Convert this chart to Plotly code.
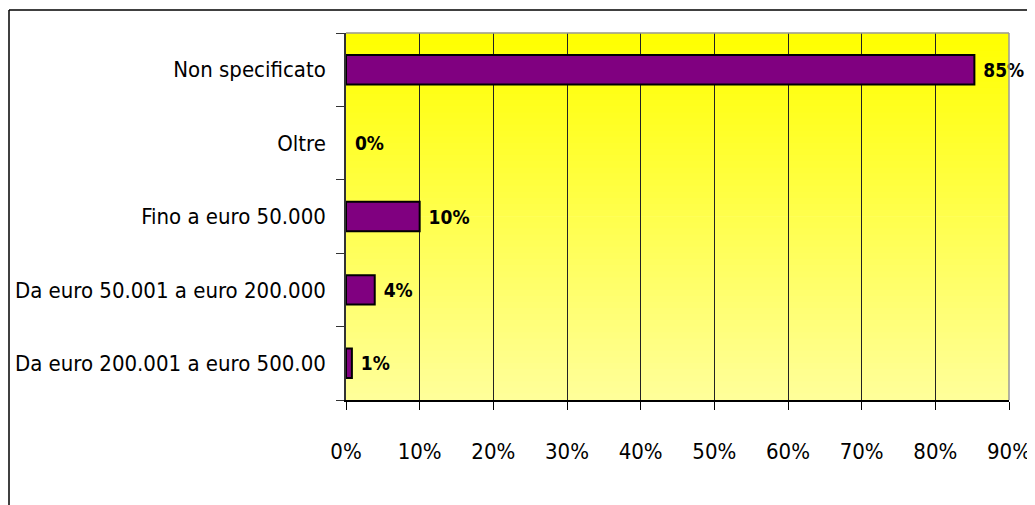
import plotly.graph_objects as go

categories = ["Non specificato", "Oltre", "Fino a euro 50.000",
              "Da euro 50.001 a euro 200.000", "Da euro 200.001 a euro 500.00"]
values = [0.853, 0.0, 0.100, 0.039, 0.008]
x_ticks = [0, 0.1, 0.2, 0.3, 0.4, 0.5, 0.6, 0.7, 0.8, 0.9]
x_tick_labels = ["0%", "10%", "20%", "30%", "40%", "50%", "60%", "70%", "80%", "90%"]

FONT = "DejaVu Sans Condensed, Liberation Sans Narrow, sans-serif"

W, H = 1027, 497
ML, MR, MT, MB = 338, 26, 25, 105
PW, PH = W - ML - MR, H - MT - MB

fig = go.Figure()
fig.add_trace(go.Bar(
    y=categories, x=values, orientation="h",
    marker=dict(color="#800080",
                line=dict(color="black", width=[2 if v > 0 else 0 for v in values])),
    width=0.4,
    texttemplate="\u00a0%{x:.0%}", textposition="outside", cliponaxis=False,
    textfont=dict(family=FONT, size=19, color="black", weight="bold"),
))

# gradient background of plot area (vertical: yellow at top to pale yellow at bottom)
shapes = []
n = 60
for i in range(n):
    t = i / (n - 1)
    b = int(round(t * 153))
    color = f"rgb(255,255,{b})"
    y1 = 1 - i / n
    y0 = 1 - (i + 1) / n
    shapes.append(dict(type="rect", xref="x domain", yref="y domain",
                       x0=0, x1=1, y0=y0 - 0.001, y1=y1 + 0.001,
                       fillcolor=color, line=dict(width=0), layer="below"))
# top and right gray border of plot area
shapes.append(dict(type="line", xref="x domain", yref="y domain", x0=0, x1=1, y0=1, y1=1,
                   line=dict(color="#999999", width=1.5), layer="above"))
shapes.append(dict(type="line", xref="x domain", yref="y domain", x0=1, x1=1, y0=0, y1=1,
                   line=dict(color="#999999", width=1.5), layer="above"))
# outer chart frame (top and left visible)
fx = -(ML - 1) / PW
fy = (H - MB - 2) / PH
shapes.append(dict(type="line", xref="paper", yref="paper", x0=fx, x1=1.2, y0=fy, y1=fy,
                   line=dict(color="black", width=1.5)))
shapes.append(dict(type="line", xref="paper", yref="paper", x0=fx, x1=fx, y0=-0.5, y1=fy,
                   line=dict(color="black", width=1.5)))

fig.update_layout(
    width=W, height=H,
    margin=dict(l=ML, r=MR, t=MT, b=MB, autoexpand=False),
    paper_bgcolor="white", plot_bgcolor="rgba(0,0,0,0)",
    showlegend=False,
    shapes=shapes,
    font=dict(family=FONT, size=22, color="black"),
    xaxis=dict(range=[0, 0.9], tickvals=x_ticks, ticktext=x_tick_labels,
               showgrid=True, gridcolor="#222222", gridwidth=1,
               showline=True, linecolor="black", linewidth=1.5,
               ticks="outside", ticklen=8, tickcolor="black",
               ticklabelstandoff=23, zeroline=False, layer="above traces",
               tickfont=dict(family=FONT, size=22)),
    yaxis=dict(categoryorder="array", categoryarray=categories[::-1],
               showgrid=False,
               showline=True, linecolor="#333333", linewidth=1.5,
               ticks="outside", ticklen=8, tickcolor="#333333", tickson="boundaries",
               ticklabelstandoff=14, layer="above traces",
               tickfont=dict(family=FONT, size=22)),
)

fig.write_html("out.html")
